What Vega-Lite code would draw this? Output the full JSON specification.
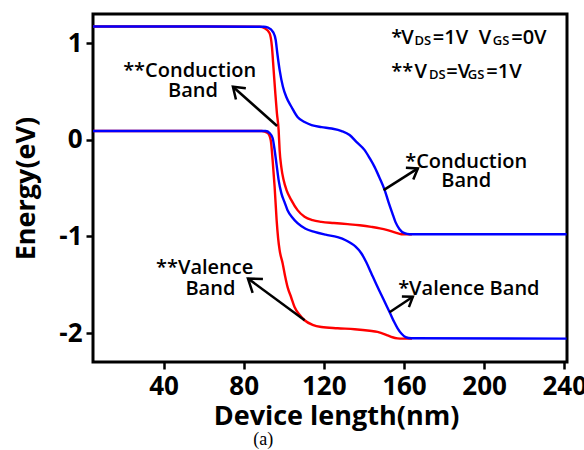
{
  "$schema": "https://vega.github.io/schema/vega-lite/v6.json",
  "autosize": {"type": "none"},
  "padding": {"left": 93, "top": 14, "right": 17, "bottom": 88},
  "width": 474,
  "height": 348,
  "background": "white",
  "config": {"view": {"stroke": "black", "strokeWidth": 3}, "font": "Open Sans"},
  "datasets": {
    "bands": [
      {"case": "*", "band": "CB", "x": 4.8, "y": 1.17}, {"case": "*", "band": "CB", "x": 60, "y": 1.17}, {"case": "*", "band": "CB", "x": 90, "y": 1.168},
      {"case": "*", "band": "CB", "x": 92.2, "y": 1.16}, {"case": "*", "band": "CB", "x": 94.8, "y": 1.11}, {"case": "*", "band": "CB", "x": 96.0, "y": 1.031},
      {"case": "*", "band": "CB", "x": 96.8, "y": 0.894}, {"case": "*", "band": "CB", "x": 97.95, "y": 0.722}, {"case": "*", "band": "CB", "x": 99.6, "y": 0.548},
      {"case": "*", "band": "CB", "x": 101.3, "y": 0.441}, {"case": "*", "band": "CB", "x": 103.9, "y": 0.338}, {"case": "*", "band": "CB", "x": 106.9, "y": 0.234},
      {"case": "*", "band": "CB", "x": 110.4, "y": 0.182}, {"case": "*", "band": "CB", "x": 113.9, "y": 0.151}, {"case": "*", "band": "CB", "x": 118.9, "y": 0.13},
      {"case": "*", "band": "CB", "x": 123.9, "y": 0.115}, {"case": "*", "band": "CB", "x": 128.9, "y": 0.089}, {"case": "*", "band": "CB", "x": 132.9, "y": 0.048},
      {"case": "*", "band": "CB", "x": 136.4, "y": -0.025}, {"case": "*", "band": "CB", "x": 140.4, "y": -0.108}, {"case": "*", "band": "CB", "x": 142.9, "y": -0.191},
      {"case": "*", "band": "CB", "x": 145.4, "y": -0.284}, {"case": "*", "band": "CB", "x": 147.9, "y": -0.398}, {"case": "*", "band": "CB", "x": 150.4, "y": -0.522},
      {"case": "*", "band": "CB", "x": 152.3, "y": -0.646}, {"case": "*", "band": "CB", "x": 154.2, "y": -0.76}, {"case": "*", "band": "CB", "x": 155.8, "y": -0.853},
      {"case": "*", "band": "CB", "x": 157.8, "y": -0.926}, {"case": "*", "band": "CB", "x": 160.3, "y": -0.968}, {"case": "*", "band": "CB", "x": 162.8, "y": -0.978},
      {"case": "*", "band": "CB", "x": 241.2, "y": -0.978},

      {"case": "**", "band": "CB", "x": 4.8, "y": 1.17}, {"case": "**", "band": "CB", "x": 60, "y": 1.17}, {"case": "**", "band": "CB", "x": 88, "y": 1.168},
      {"case": "**", "band": "CB", "x": 90.5, "y": 1.153}, {"case": "**", "band": "CB", "x": 92.96, "y": 1.101}, {"case": "**", "band": "CB", "x": 94.11, "y": 0.962},
      {"case": "**", "band": "CB", "x": 94.96, "y": 0.721}, {"case": "**", "band": "CB", "x": 95.81, "y": 0.479}, {"case": "**", "band": "CB", "x": 96.61, "y": 0.272},
      {"case": "**", "band": "CB", "x": 97.46, "y": 0.099}, {"case": "**", "band": "CB", "x": 97.95, "y": -0.108}, {"case": "**", "band": "CB", "x": 98.8, "y": -0.284},
      {"case": "**", "band": "CB", "x": 99.95, "y": -0.418}, {"case": "**", "band": "CB", "x": 101.4, "y": -0.522}, {"case": "**", "band": "CB", "x": 103.8, "y": -0.625},
      {"case": "**", "band": "CB", "x": 106.9, "y": -0.729}, {"case": "**", "band": "CB", "x": 110.4, "y": -0.798}, {"case": "**", "band": "CB", "x": 114.4, "y": -0.833},
      {"case": "**", "band": "CB", "x": 118.8, "y": -0.85}, {"case": "**", "band": "CB", "x": 125, "y": -0.862}, {"case": "**", "band": "CB", "x": 131.9, "y": -0.874},
      {"case": "**", "band": "CB", "x": 137.9, "y": -0.886}, {"case": "**", "band": "CB", "x": 143.7, "y": -0.902}, {"case": "**", "band": "CB", "x": 148, "y": -0.917},
      {"case": "**", "band": "CB", "x": 151.8, "y": -0.936}, {"case": "**", "band": "CB", "x": 155.8, "y": -0.962}, {"case": "**", "band": "CB", "x": 158.7, "y": -0.978},
      {"case": "**", "band": "CB", "x": 164, "y": -0.98},

      {"case": "*", "band": "VB", "x": 4.8, "y": 0.09}, {"case": "*", "band": "VB", "x": 60, "y": 0.09}, {"case": "*", "band": "VB", "x": 91.0, "y": 0.089},
      {"case": "*", "band": "VB", "x": 92.96, "y": 0.068}, {"case": "*", "band": "VB", "x": 94.46, "y": 0.017}, {"case": "*", "band": "VB", "x": 95.46, "y": -0.107},
      {"case": "*", "band": "VB", "x": 96.46, "y": -0.263}, {"case": "*", "band": "VB", "x": 97.46, "y": -0.418}, {"case": "*", "band": "VB", "x": 98.8, "y": -0.553},
      {"case": "*", "band": "VB", "x": 100.4, "y": -0.646}, {"case": "*", "band": "VB", "x": 101.9, "y": -0.729}, {"case": "*", "band": "VB", "x": 104.4, "y": -0.807},
      {"case": "*", "band": "VB", "x": 106.9, "y": -0.864}, {"case": "*", "band": "VB", "x": 110.9, "y": -0.921}, {"case": "*", "band": "VB", "x": 115.4, "y": -0.954},
      {"case": "*", "band": "VB", "x": 120.9, "y": -0.983}, {"case": "*", "band": "VB", "x": 126.9, "y": -1.009}, {"case": "*", "band": "VB", "x": 130.9, "y": -1.04},
      {"case": "*", "band": "VB", "x": 133.4, "y": -1.07}, {"case": "*", "band": "VB", "x": 135.88, "y": -1.107}, {"case": "*", "band": "VB", "x": 138.72, "y": -1.175},
      {"case": "*", "band": "VB", "x": 141.22, "y": -1.268}, {"case": "*", "band": "VB", "x": 143.71, "y": -1.382}, {"case": "*", "band": "VB", "x": 146.21, "y": -1.496},
      {"case": "*", "band": "VB", "x": 148.7, "y": -1.604}, {"case": "*", "band": "VB", "x": 151.2, "y": -1.713}, {"case": "*", "band": "VB", "x": 153.34, "y": -1.806},
      {"case": "*", "band": "VB", "x": 155.09, "y": -1.884}, {"case": "*", "band": "VB", "x": 156.84, "y": -1.951}, {"case": "*", "band": "VB", "x": 158.83, "y": -2.008},
      {"case": "*", "band": "VB", "x": 160.83, "y": -2.042}, {"case": "*", "band": "VB", "x": 163.67, "y": -2.055}, {"case": "*", "band": "VB", "x": 241.2, "y": -2.058},

      {"case": "**", "band": "VB", "x": 4.8, "y": 0.09}, {"case": "**", "band": "VB", "x": 60, "y": 0.09}, {"case": "**", "band": "VB", "x": 89.0, "y": 0.089},
      {"case": "**", "band": "VB", "x": 92.0, "y": 0.068}, {"case": "**", "band": "VB", "x": 93.5, "y": -0.004}, {"case": "**", "band": "VB", "x": 94.46, "y": -0.211},
      {"case": "**", "band": "VB", "x": 95.46, "y": -0.488}, {"case": "**", "band": "VB", "x": 96.46, "y": -0.833}, {"case": "**", "band": "VB", "x": 97.2, "y": -1.019},
      {"case": "**", "band": "VB", "x": 97.95, "y": -1.143}, {"case": "**", "band": "VB", "x": 99.45, "y": -1.278}, {"case": "**", "band": "VB", "x": 100.7, "y": -1.413},
      {"case": "**", "band": "VB", "x": 101.9, "y": -1.523}, {"case": "**", "band": "VB", "x": 103.7, "y": -1.63}, {"case": "**", "band": "VB", "x": 105.4, "y": -1.731},
      {"case": "**", "band": "VB", "x": 107.9, "y": -1.811}, {"case": "**", "band": "VB", "x": 110.4, "y": -1.868}, {"case": "**", "band": "VB", "x": 114.4, "y": -1.915},
      {"case": "**", "band": "VB", "x": 118.8, "y": -1.938}, {"case": "**", "band": "VB", "x": 126.9, "y": -1.951}, {"case": "**", "band": "VB", "x": 135.4, "y": -1.961},
      {"case": "**", "band": "VB", "x": 142.9, "y": -1.977}, {"case": "**", "band": "VB", "x": 146.8, "y": -1.989}, {"case": "**", "band": "VB", "x": 151.8, "y": -2.024},
      {"case": "**", "band": "VB", "x": 154.3, "y": -2.044}, {"case": "**", "band": "VB", "x": 156.8, "y": -2.055}, {"case": "**", "band": "VB", "x": 159.3, "y": -2.058},
      {"case": "**", "band": "VB", "x": 164, "y": -2.058}
    ],
    "arrows": [
      {"seg": "a1s", "o": 1, "x": 96.7, "y": 0.141}, {"seg": "a1s", "o": 2, "x": 74.65, "y": 0.548},
      {"seg": "a1h", "o": 1, "x": 76.15, "y": 0.416}, {"seg": "a1h", "o": 2, "x": 74.65, "y": 0.548}, {"seg": "a1h", "o": 3, "x": 81.09, "y": 0.532},
      {"seg": "a2s", "o": 1, "x": 149.85, "y": -0.522}, {"seg": "a2s", "o": 2, "x": 166.97, "y": -0.297},
      {"seg": "a2h", "o": 1, "x": 160.98, "y": -0.291}, {"seg": "a2h", "o": 2, "x": 166.97, "y": -0.297}, {"seg": "a2h", "o": 3, "x": 164.67, "y": -0.412},
      {"seg": "a3s", "o": 1, "x": 110.43, "y": -1.868}, {"seg": "a3s", "o": 2, "x": 82.14, "y": -1.436},
      {"seg": "a3h", "o": 1, "x": 84.48, "y": -1.585}, {"seg": "a3h", "o": 2, "x": 82.14, "y": -1.436}, {"seg": "a3h", "o": 3, "x": 89.62, "y": -1.442},
      {"seg": "a4s", "o": 1, "x": 152.84, "y": -1.785}, {"seg": "a4s", "o": 2, "x": 164.47, "y": -1.625},
      {"seg": "a4h", "o": 1, "x": 158.98, "y": -1.622}, {"seg": "a4h", "o": 2, "x": 164.47, "y": -1.625}, {"seg": "a4h", "o": 3, "x": 162.48, "y": -1.732}
    ],
    "labels": [
      {"t": "**Conduction", "x": 53.04, "y": 0.648},
      {"t": "Band", "x": 54.69, "y": 0.444},
      {"t": "*Conduction", "x": 191.1, "y": -0.298},
      {"t": "Band", "x": 191.1, "y": -0.488},
      {"t": "**Valence", "x": 60.53, "y": -1.385},
      {"t": "Band", "x": 63.4, "y": -1.609},
      {"t": "*Valence Band", "x": 192.4, "y": -1.609}
    ],
    "legendMain": [
      {"t": "*", "x": 153.69, "y": 0.99},
      {"t": "V", "x": 158.68, "y": 0.99},
      {"t": "=1V", "x": 174.45, "y": 0.99},
      {"t": "V", "x": 197.41, "y": 0.99},
      {"t": "=0V", "x": 213.57, "y": 0.99},
      {"t": "**", "x": 153.69, "y": 0.635},
      {"t": "V", "x": 165.33, "y": 0.635},
      {"t": "=V", "x": 181.14, "y": 0.635},
      {"t": "=1V", "x": 201.1, "y": 0.635}
    ],
    "legendSub": [
      {"t": "DS", "x": 165.32, "y": 0.98},
      {"t": "GS", "x": 204.39, "y": 0.98},
      {"t": "DS", "x": 172.46, "y": 0.624},
      {"t": "GS", "x": 191.92, "y": 0.624}
    ],
    "caption": [
      {"t": "(a)", "x": 89.72, "y": -3.163}
    ]
  },
  "encoding": {
    "x": {
      "field": "x", "type": "quantitative",
      "scale": {"domain": [4.8, 241.4], "nice": false, "zero": false},
      "axis": {
        "title": "Device length(nm)", "values": [40, 80, 120, 160, 200, 240],
        "domain": false, "grid": false, "tickSize": 7, "tickWidth": 2.5, "tickColor": "black",
        "labelFont": "Open Sans", "labelFontSize": 26, "labelFontWeight": "bold", "labelColor": "black",
        "labelPadding": 4, "labelFlush": false, "labelOverlap": false,
        "titleFont": "Open Sans", "titleFontSize": 27, "titleFontWeight": "bold", "titleColor": "black", "titlePadding": 4, "titleX": 243
      }
    },
    "y": {
      "field": "y", "type": "quantitative",
      "scale": {"domain": [-2.3, 1.3], "nice": false, "zero": false},
      "axis": {
        "title": "Energy(eV)", "values": [-2, -1, 0, 1],
        "domain": false, "grid": false, "tickSize": 7, "tickWidth": 2.5, "tickColor": "black",
        "labelFont": "Open Sans", "labelFontSize": 26, "labelFontWeight": "bold", "labelColor": "black",
        "labelPadding": 4, "labelExpr": "'' + datum.value",
        "titleFont": "Open Sans", "titleFontSize": 27, "titleFontWeight": "bold", "titleColor": "black", "titlePadding": 18
      }
    }
  },
  "layer": [
    {
      "data": {"name": "bands"},
      "transform": [{"filter": "datum.case === '**'"}],
      "mark": {"type": "line", "strokeWidth": 2.4, "interpolate": "monotone"},
      "encoding": {
        "color": {"field": "case", "type": "nominal", "scale": {"domain": ["*", "**"], "range": ["#0000FF", "#FF0000"]}, "legend": null},
        "detail": {"field": "band"}
      }
    },
    {
      "data": {"name": "bands"},
      "transform": [{"filter": "datum.case === '*'"}],
      "mark": {"type": "line", "strokeWidth": 2.4, "interpolate": "monotone"},
      "encoding": {
        "color": {"field": "case", "type": "nominal", "scale": {"domain": ["*", "**"], "range": ["#0000FF", "#FF0000"]}, "legend": null},
        "detail": {"field": "band"}
      }
    },
    {
      "data": {"name": "arrows"},
      "mark": {"type": "line", "color": "black", "strokeWidth": 2.5, "strokeJoin": "miter", "strokeCap": "butt"},
      "encoding": {
        "detail": {"field": "seg"},
        "order": {"field": "o", "type": "quantitative"}
      }
    },
    {
      "data": {"name": "labels"},
      "mark": {"type": "text", "align": "center", "baseline": "alphabetic", "font": "Open Sans", "fontSize": 20, "fontWeight": 600, "color": "black"},
      "encoding": {"text": {"field": "t"}}
    },
    {
      "data": {"name": "legendMain"},
      "mark": {"type": "text", "align": "left", "baseline": "alphabetic", "font": "Open Sans", "fontSize": 20, "fontWeight": 600, "color": "black"},
      "encoding": {"text": {"field": "t"}}
    },
    {
      "data": {"name": "legendSub"},
      "mark": {"type": "text", "align": "left", "baseline": "alphabetic", "font": "Open Sans", "fontSize": 13, "fontWeight": 600, "color": "black"},
      "encoding": {"text": {"field": "t"}}
    },
    {
      "data": {"name": "caption"},
      "mark": {"type": "text", "align": "center", "baseline": "alphabetic", "font": "Liberation Serif", "fontSize": 18, "color": "black"},
      "encoding": {"text": {"field": "t"}}
    }
  ]
}
